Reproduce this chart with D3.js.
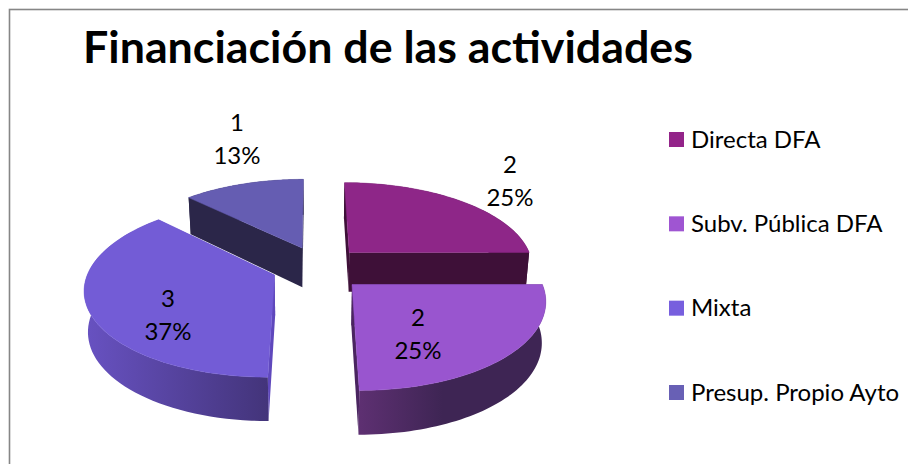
<!DOCTYPE html>
<html><head><meta charset="utf-8">
<script src="https://cdn.jsdelivr.net/npm/d3@7/dist/d3.min.js"></script>
<style>html,body{margin:0;padding:0;background:#fff}svg{display:block}text{font-family:Lato,"Open Sans",sans-serif;fill:#000}</style>
</head><body><svg id="c" width="908" height="464"></svg>
<script>
const title = "Financiación de las actividades";
const categories = ["Directa DFA","Subv. Pública DFA","Mixta","Presup. Propio Ayto"];
const values = [2,2,3,1];
const percents = ["25%","25%","37%","13%"];
const topColors = ["#8E2688","#9955CF","#735CD6","#655DB2"];
const legendColors = ["#932489","#9F55D2","#775FDE","#6860B5"];
const wallLeft = ["#3E1038","#5E3072","#6852C2","#2B2649"];
const wallRight = ["#3E1038","#3E2554","#43347A","#2B2649"];
const cutColors = ["#3E1038","#4A2560","#5F48BC","#2B2649"];
const labelAnchors = [[510,181],[418,334],[168,315],[237,139]];
const offsetX = [0.207,0.21,-0.2,-0.055];
const offsetY = [0.19,-0.19,-0.082,0.245];
const drawOrder = [3,0,2,1];

const svg = d3.select("#c");
const P = {cx:312, cy:268, a:185, b:84.5, p:0.15, d:40};
const sx = d3.scaleLinear().domain([0,1]).range([0,P.a]);
const sy = d3.scaleLinear().domain([0,1]).range([0,-P.b]);
const sz = d3.scaleLinear().domain([0,1]).range([0,P.d]);
function proj(x,y,z){
  const w = 1 + P.p*y;
  const k = z ? 0.983 : 1;
  return [P.cx + k*sx(x)/w, P.cy + sy(y)/w + sz(z)*(1+(1-w)*0.6)];
}
const arcs = d3.pie().sort(null).value(d=>d)(values);
const line = d3.line();
const defs = svg.append("defs");

svg.append("rect").attr("x",9.5).attr("y",9.5).attr("width",940).attr("height",500)
  .attr("fill","#fff").attr("stroke","#868686").attr("stroke-width",1.6);

drawOrder.forEach(i=>{
  const s = arcs[i];
  const ox = offsetX[i], oy = offsetY[i];
  const pt = (t,z)=>proj(ox+Math.sin(t), oy+Math.cos(t), z);
  const ts = d3.range(0,61).map(k=>s.startAngle+(s.endAngle-s.startAngle)*k/60);
  const apex = z=>proj(ox,oy,z);
  const g = svg.append("g");
  const id = "w"+i;
  const grad = defs.append("linearGradient").attr("id",id);
  grad.append("stop").attr("offset","0%").attr("stop-color",wallLeft[i]);
  grad.append("stop").attr("offset",i===1?"45%":"100%").attr("stop-color",wallRight[i]);
  [s.startAngle,s.endAngle].forEach(t=>{
    g.append("path").attr("d",line([apex(0),pt(t,0),pt(t,1),apex(1)])+"Z").attr("fill",cutColors[i]);
  });
  const wall = ts.map(t=>pt(t,0)).concat(ts.slice().reverse().map(t=>pt(t,1)));
  g.append("path").attr("d",line(wall)+"Z").attr("fill",`url(#${id})`);
  const top = [apex(0)].concat(ts.map(t=>pt(t,0)));
  g.append("path").attr("d",line(top)+"Z").attr("fill",topColors[i]).attr("stroke",topColors[i]).attr("stroke-width",0.5);
});

arcs.forEach((s,i)=>{
  const t = svg.append("text").attr("text-anchor","middle").attr("font-size",24);
  t.append("tspan").attr("x",labelAnchors[i][0]).attr("y",labelAnchors[i][1]-8).text(values[i]);
  t.append("tspan").attr("x",labelAnchors[i][0]).attr("y",labelAnchors[i][1]+25).text(percents[i]);
});

const ly = d3.scalePoint().domain(categories).range([139.5,392.5]);
categories.forEach((c,i)=>{
  svg.append("rect").attr("x",669).attr("y",ly(c)-7.5).attr("width",15).attr("height",15).attr("fill",legendColors[i]);
  svg.append("text").attr("x",691).attr("y",ly(c)+8).attr("font-size",24).text(c);
});
svg.append("text").attr("x",83).attr("y",63).attr("font-size",44.75).attr("font-weight",700).text(title);
</script></body></html>
